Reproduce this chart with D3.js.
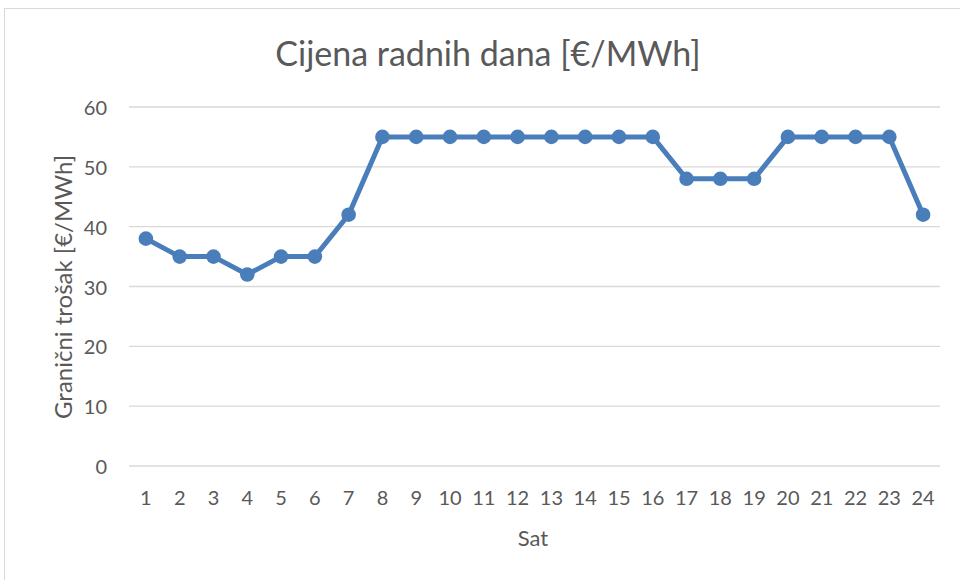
<!DOCTYPE html>
<html lang="hr">
<head>
<meta charset="utf-8">
<title>Cijena radnih dana</title>
<script src="https://d3js.org/d3.v7.min.js"></script>
<style>
  body { margin: 0; background: #fff; }
  text { font-family: Lato, "Open Sans", sans-serif; fill: #595959; }
</style>
</head>
<body>
<svg id="chart" width="960" height="580"></svg>
<script>
// podaci
const sati = d3.range(1, 25).map(String);
const cijene = [38, 35, 35, 32, 35, 35, 42, 55, 55, 55, 55, 55, 55, 55, 55, 55, 48, 48, 48, 55, 55, 55, 55, 42];
const yTicks = [0, 10, 20, 30, 40, 50, 60];

const svg = d3.select("#chart");
const W = 960, H = 580;
const m = { left: 129, right: 20, top: 107, bottom: 114 };

// okvir
svg.append("rect")
  .attr("x", 4.5).attr("y", 8.5)
  .attr("width", W + 10).attr("height", H)
  .attr("fill", "#fff").attr("stroke", "#d9d9d9");

const x = d3.scaleBand().domain(sati).range([m.left, W - m.right]);
const y = d3.scaleLinear().domain([0, 60]).range([H - m.bottom, m.top]);

// mreža
svg.append("g").selectAll("line")
  .data(yTicks).enter().append("line")
  .attr("x1", m.left).attr("x2", W - m.right)
  .attr("y1", d => y(d)).attr("y2", d => y(d))
  .attr("stroke", "#d9d9d9").attr("stroke-width", 1.3);

// oznake osi y
svg.append("g").selectAll("text")
  .data(yTicks).enter().append("text")
  .attr("x", 107).attr("y", d => y(d))
  .attr("text-anchor", "end").attr("dominant-baseline", "central")
  .style("font-size", "20px")
  .text(d => d);

// oznake osi x
svg.append("g").selectAll("text")
  .data(sati).enter().append("text")
  .attr("x", d => x(d) + x.bandwidth() / 2).attr("y", 497)
  .attr("text-anchor", "middle").attr("dominant-baseline", "central")
  .style("font-size", "20px")
  .text(d => d);

// linija
const line = d3.line()
  .x((d, i) => x(sati[i]) + x.bandwidth() / 2)
  .y(d => y(d));

svg.append("path")
  .datum(cijene)
  .attr("d", line)
  .attr("fill", "none")
  .attr("stroke", "#4a7ebb")
  .attr("stroke-width", 5)
  .attr("stroke-linejoin", "round");

svg.append("g").selectAll("circle")
  .data(cijene).enter().append("circle")
  .attr("cx", (d, i) => x(sati[i]) + x.bandwidth() / 2)
  .attr("cy", d => y(d))
  .attr("r", 7.3)
  .attr("fill", "#4a7ebb");

// naslovi
svg.append("text")
  .attr("x", 488).attr("y", 52)
  .attr("text-anchor", "middle").attr("dominant-baseline", "central")
  .style("font-size", "34px")
  .text("Cijena radnih dana [€/MWh]");

svg.append("text")
  .attr("x", 533).attr("y", 537)
  .attr("text-anchor", "middle").attr("dominant-baseline", "central")
  .style("font-size", "22px")
  .text("Sat");

svg.append("text")
  .attr("transform", "translate(62,287) rotate(-90)")
  .attr("text-anchor", "middle").attr("dominant-baseline", "central")
  .style("font-size", "24px")
  .text("Granični trošak [€/MWh]");
</script>
</body>
</html>
